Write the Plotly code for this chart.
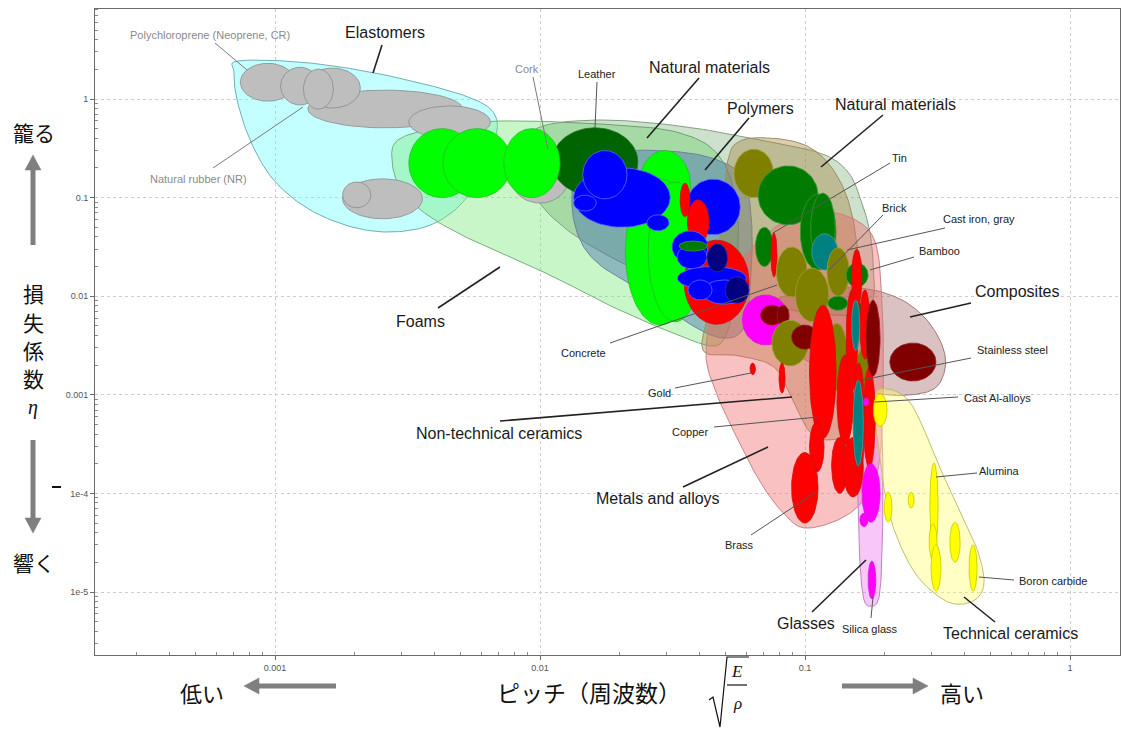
import numpy as np
import plotly.graph_objects as go

# ---------------------------------------------------------------------------
# Material bubbles: (pitch low, pitch high, loss low, loss high)
# pitch = sqrt(E / rho), loss = loss coefficient eta
# ---------------------------------------------------------------------------
elastomer_bubbles = [
    (1.33e-3, 5.1e-3, 0.51, 1.23),     # natural rubber (NR)
    (3.2e-3, 6.5e-3, 0.40, 0.85),
    (7.4e-4, 1.19e-3, 0.95, 2.3),      # polychloroprene
    (1.05e-3, 1.47e-3, 0.87, 2.1),
    (1.29e-3, 2.1e-3, 0.81, 2.06),
    (1.28e-3, 1.66e-3, 0.79, 2.01),
    (1.8e-3, 3.6e-3, 0.061, 0.155),
    (1.8e-3, 2.3e-3, 0.079, 0.144),
]
cork_bubbles = [(7.8e-3, 0.0128, 0.088, 0.28)]
leather_bubbles = [(0.0111, 0.0234, 0.104, 0.51)]
foam_bubbles = [
    (3.2e-3, 5.7e-3, 0.10, 0.50),
    (4.3e-3, 7.8e-3, 0.10, 0.50),
    (7.3e-3, 0.0119, 0.10, 0.50),
    (0.0236, 0.037, 0.059, 0.30),
    (0.021, 0.0385, 0.0051, 0.155),
    (0.0256, 0.041, 0.0055, 0.144),
]
polymer_bubbles = [
    (0.0134, 0.031, 0.050, 0.20),
    (0.0145, 0.0213, 0.097, 0.30),
    (0.0134, 0.0163, 0.073, 0.106),
    (0.0356, 0.057, 0.042, 0.154),
    (0.0253, 0.0307, 0.046, 0.067),
    (0.0315, 0.043, 0.0217, 0.046),
    (0.0329, 0.0427, 0.0189, 0.0331),
    (0.033, 0.060, 0.0116, 0.020),
    (0.041, 0.060, 0.0083, 0.0146),
    (0.0362, 0.0446, 0.00915, 0.0146),
]
navy_bubbles = [
    (0.0427, 0.051, 0.0176, 0.034),
    (0.050, 0.0615, 0.0085, 0.0157),
]
metal_bubbles = [
    (0.0338, 0.0368, 0.064, 0.14),
    (0.036, 0.0434, 0.034, 0.095),
    (0.035, 0.0615, 0.0052, 0.037),
    (0.0744, 0.0784, 0.0157, 0.044),   # tin
    (0.062, 0.065, 0.0016, 0.0021),    # gold
    (0.0798, 0.0841, 1.04e-3, 2.1e-3),
    (0.132, 0.152, 3.1e-4, 2.53e-3),
    (0.104, 0.131, 3.6e-4, 8.1e-3),    # copper
    (0.104, 0.118, 1.65e-4, 5.3e-4),
    (0.089, 0.112, 5.0e-5, 2.6e-4),    # brass
    (0.126, 0.145, 1.0e-4, 3.7e-4),
    (0.139, 0.166, 9.2e-5, 3.7e-4),
    (0.143, 0.158, 1.1e-3, 0.0116),
    (0.166, 0.184, 1.8e-4, 1.9e-3),
    (0.150, 0.164, 7.8e-3, 0.030),
    (0.161, 0.176, 2.3e-3, 0.0116),
    (0.152, 0.168, 1.5e-4, 2.1e-3),
]
natural_bubbles = [
    (0.0665, 0.112, 0.053, 0.21),
    (0.096, 0.131, 0.0184, 0.109),
    (0.105, 0.130, 0.0217, 0.111),
    (0.065, 0.076, 0.020, 0.050),
    (0.143, 0.173, 0.0124, 0.0217),    # bamboo
    (0.122, 0.145, 7.2e-3, 0.010),
    (0.145, 0.167, 5.1e-3, 8.9e-3),
    (0.0335, 0.0427, 0.0287, 0.0363),
]
ferrous_bubbles = [
    (0.106, 0.133, 0.0184, 0.043),     # cast iron, gray
    (0.150, 0.161, 2.8e-3, 9.1e-3),
    (0.152, 0.166, 1.9e-4, 1.4e-3),    # stainless steel
]
nontech_bubbles = [
    (0.054, 0.076, 0.10, 0.31),
    (0.078, 0.102, 0.0098, 0.0315),    # concrete
    (0.092, 0.123, 0.0055, 0.0193),
    (0.121, 0.147, 0.010, 0.031),      # brick
    (0.075, 0.103, 1.96e-3, 5.7e-3),
    (0.120, 0.145, 1.1e-3, 5.3e-3),
    (0.133, 0.156, 4.8e-4, 1.0e-3),
    (0.156, 0.182, 1.2e-3, 3.05e-3),
]
composite_bubbles = [
    (0.068, 0.083, 5.1e-3, 8.1e-3),
    (0.0784, 0.0871, 5.1e-3, 8.1e-3),
    (0.089, 0.112, 2.9e-3, 5.1e-3),
    (0.170, 0.192, 1.55e-3, 9.1e-3),
    (0.209, 0.312, 1.38e-3, 3.35e-3),
]
glass_bubbles = [
    (0.058, 0.087, 3.2e-3, 0.0103),
    (0.166, 0.174, 7.7e-4, 9.3e-4),
    (0.164, 0.192, 5.1e-5, 2.0e-4),
    (0.161, 0.173, 4.6e-5, 6.3e-5),
    (0.173, 0.185, 8.5e-6, 2.06e-5),   # silica glass
]
techcer_bubbles = [
    (0.181, 0.204, 4.8e-4, 1.02e-3),
    (0.199, 0.213, 5.1e-5, 1.03e-4),
    (0.245, 0.258, 7.1e-5, 1.03e-4),
    (0.296, 0.318, 2.7e-5, 2.03e-4),   # alumina
    (0.294, 0.315, 2.1e-5, 4.9e-5),
    (0.299, 0.326, 1.02e-5, 3.0e-5),
    (0.352, 0.385, 2.0e-5, 5.1e-5),
    (0.416, 0.446, 1.02e-5, 3.0e-5),   # boron carbide
]

# ---------------------------------------------------------------------------
# Family envelopes: boundary points (pitch, loss)
# ---------------------------------------------------------------------------
elastomer_env_pitch = [7.25e-4, 1.24e-3, 2.28e-3, 4.19e-3, 5.94e-3, 6.76e-3, 6.88e-3, 6.48e-3, 5.69e-3,
                       4.78e-3, 3.68e-3, 2.60e-3, 1.84e-3, 1.30e-3, 9.74e-4, 8.05e-4, 7.19e-4, 7.0e-4]
elastomer_env_loss = [2.43, 2.37, 1.88, 1.29, 0.933, 0.689, 0.463, 0.270, 0.134,
                      0.0749, 0.0503, 0.0448, 0.0527, 0.0803, 0.158, 0.384, 0.977, 1.88]

foam_env_pitch = [2.91e-3, 4.19e-3, 7.06e-3, 0.01684, 0.0338, 0.0486, 0.0559, 0.0535, 0.0512,
                  0.0457, 0.0338, 0.0192, 0.0109, 5.94e-3, 3.85e-3, 3.01e-3, 2.77e-3]
foam_env_loss = [0.384, 0.520, 0.598, 0.558, 0.452, 0.241, 0.0593, 9.15e-3, 4.54e-3,
                 3.13e-3, 3.95e-3, 7.59e-3, 0.0164, 0.0338, 0.0636, 0.119, 0.224]

natural_env_pitch = [8.78e-3, 0.0100, 0.01684, 0.0338, 0.0676, 0.114, 0.1453, 0.164, 0.176,
                     0.181, 0.182, 0.168, 0.124, 0.0676, 0.0338, 0.0188, 0.0124, 9.57e-3]
natural_env_loss = [0.304, 0.520, 0.612, 0.532, 0.384, 0.283, 0.182, 0.0881, 0.0438,
                    0.0207, 0.01028, 6.92e-3, 6.45e-3, 8.14e-3, 0.0121, 0.0244, 0.0492, 0.106]

polymer_env_pitch = [0.0132, 0.0139, 0.0184, 0.0338, 0.0499, 0.0594, 0.0631, 0.0620, 0.0594,
                     0.0521, 0.0402, 0.0238, 0.01684, 0.01416]
polymer_env_loss = [0.0841, 0.1905, 0.290, 0.290, 0.224, 0.141, 0.0469, 0.01156, 5.1e-3,
                    3.77e-3, 4.54e-3, 0.01156, 0.0207, 0.0372]

nontech_env_pitch = [0.0512, 0.0569, 0.0738, 0.100, 0.124, 0.1453, 0.158, 0.164, 0.158,
                     0.1453, 0.124, 0.1044, 0.0917, 0.0771, 0.0569, 0.0412, 0.0446, 0.0486]
nontech_env_loss = [0.241, 0.375, 0.402, 0.341, 0.214, 0.0946, 0.0294, 5.74e-3, 1.12e-3,
                    4.40e-4, 3.48e-4, 4.20e-4, 7.88e-4, 1.87e-3, 2.48e-3, 2.85e-3, 9.15e-3, 0.0593]

composite_env_pitch = [0.0665, 0.0771, 0.1044, 0.161, 0.2244, 0.284, 0.329, 0.338, 0.310,
                       0.249, 0.192, 0.148, 0.109, 0.0805]
composite_env_loss = [6.01e-3, 9.15e-3, 0.01156, 0.0121, 9.59e-3, 6.01e-3, 3.20e-3, 1.87e-3, 1.17e-3,
                      9.95e-4, 1.02e-3, 1.26e-3, 2.01e-3, 3.20e-3]

metal_env_pitch = [0.0594, 0.0878, 0.1265, 0.179, 0.195, 0.197, 0.1885, 0.164, 0.133,
                   0.100, 0.0841, 0.0688, 0.0559, 0.0466, 0.0423, 0.0457]
metal_env_loss = [0.0262, 0.0621, 0.0714, 0.0418, 9.15e-3, 8.85e-4, 1.73e-4, 8.18e-5, 5.37e-5,
                  4.46e-5, 6.04e-5, 1.22e-4, 3.48e-4, 9.95e-4, 2.53e-3, 8.14e-3]

glass_env_pitch = [0.164, 0.182, 0.1935, 0.197, 0.195, 0.190, 0.179, 0.167, 0.161, 0.158, 0.157]
glass_env_loss = [9.95e-4, 1.07e-3, 5.55e-4, 1.37e-4, 2.11e-5, 8.69e-6, 7.21e-6, 8.30e-6,
                  2.11e-5, 1.37e-4, 5.55e-4]

techcer_env_pitch = [0.1853, 0.213, 0.245, 0.2765, 0.323, 0.391, 0.450, 0.474, 0.438,
                     0.368, 0.310, 0.260, 0.2244, 0.204, 0.192, 0.1837]
techcer_env_loss = [1.07e-3, 1.12e-3, 8.85e-4, 4.94e-4, 1.81e-4, 6.04e-5, 2.55e-5, 1.23e-5, 8.30e-6,
                    7.55e-6, 9.54e-6, 1.56e-5, 3.37e-5, 7.63e-5, 2.18e-4, 5.55e-4]

# axis ticks
x_tick_vals = [0.001, 0.01, 0.1, 1]
x_tick_text = ["0.001", "0.01", "0.1", "1"]
y_tick_vals = [1e-5, 1e-4, 1e-3, 1e-2, 1e-1, 1]
y_tick_text = ["1e-5", "1e-4", "0.001", "0.01", "0.1", "1"]
x_minor_vals = [m * 10.0 ** e for e in range(-4, 1) for m in range(2, 10)]
y_minor_vals = [m * 10.0 ** e for e in range(-6, 1) for m in range(2, 10)]

# ---------------------------------------------------------------------------
# Styles
# ---------------------------------------------------------------------------
bubble_style = {
    "elastomer": ("#bebebe", "#8a8a8a"),
    "cork": ("#bebebe", "#8a8a8a"),
    "leather": ("#006400", "#1f6f1f"),
    "foam": ("#00ff00", "#22c022"),
    "polymer": ("#0000ff", "#5a6cff"),
    "navy": ("#000080", "#3030a0"),
    "metal": ("#ff0000", "#c81010"),
    "natural": ("#007a00", "#3a9a3a"),
    "ferrous": ("#008080", "#40a0a0"),
    "nontech": ("#808000", "#a0a030"),
    "composite": ("#800000", "#902020"),
    "glass": ("#ff00ff", "#d020d0"),
    "techcer": ("#ffff00", "#c8c800"),
}
bubbles = {
    "elastomer": elastomer_bubbles, "cork": cork_bubbles, "leather": leather_bubbles,
    "foam": foam_bubbles, "polymer": polymer_bubbles, "navy": navy_bubbles,
    "metal": metal_bubbles, "natural": natural_bubbles, "ferrous": ferrous_bubbles,
    "nontech": nontech_bubbles, "composite": composite_bubbles, "glass": glass_bubbles,
    "techcer": techcer_bubbles,
}
# stacking order of the bubbles (family, first, last)
draw_sequence = [
    ("elastomer", 0, 7), ("cork", 0, 0), ("leather", 0, 0), ("foam", 0, 5),
    ("polymer", 0, 3), ("metal", 0, 2), ("polymer", 4, 9), ("navy", 0, 1),
    ("natural", 7, 7), ("nontech", 0, 0), ("natural", 0, 3), ("metal", 3, 3),
    ("ferrous", 0, 0), ("glass", 0, 0), ("composite", 0, 1), ("nontech", 1, 7),
    ("composite", 2, 2), ("natural", 4, 6), ("metal", 4, 16), ("ferrous", 1, 2),
    ("composite", 3, 4), ("glass", 1, 4), ("techcer", 0, 7),
]

envelopes = [
    (elastomer_env_pitch, elastomer_env_loss, "rgba(100,255,255,0.38)", "rgb(110,175,180)"),
    (foam_env_pitch, foam_env_loss, "rgba(120,232,120,0.40)", "rgb(120,175,120)"),
    (natural_env_pitch, natural_env_loss, "rgba(60,140,60,0.26)", "rgb(130,160,130)"),
    (polymer_env_pitch, polymer_env_loss, "rgba(70,110,175,0.45)", "rgb(110,130,160)"),
    (nontech_env_pitch, nontech_env_loss, "rgba(165,130,60,0.40)", "rgb(160,140,100)"),
    (composite_env_pitch, composite_env_loss, "rgba(150,80,80,0.35)", "rgb(160,120,120)"),
    (metal_env_pitch, metal_env_loss, "rgba(240,100,100,0.40)", "rgb(200,130,130)"),
    (glass_env_pitch, glass_env_loss, "rgba(240,120,240,0.42)", "rgb(190,130,190)"),
    (techcer_env_pitch, techcer_env_loss, "rgba(255,255,110,0.40)", "rgb(190,190,110)"),
]


def bubble_outline(b, n=72):
    lx = np.log10(b[:2])
    ly = np.log10(b[2:])
    cx, rx = lx.mean(), (lx[1] - lx[0]) / 2
    cy, ry = ly.mean(), (ly[1] - ly[0]) / 2
    t = np.linspace(0, 2 * np.pi, n)
    return 10 ** (cx + rx * np.cos(t)), 10 ** (cy + ry * np.sin(t))


def smooth_closed(px, py, n=14):
    """Closed Catmull-Rom curve through the points, evaluated in log space."""
    P = np.column_stack([np.log10(px), np.log10(py)])
    m = len(P)
    t = np.linspace(0, 1, n, endpoint=False)[:, None]
    segs = []
    for i in range(m):
        p0, p1, p2, p3 = P[(i - 1) % m], P[i], P[(i + 1) % m], P[(i + 2) % m]
        segs.append(0.5 * (2 * p1 + (-p0 + p2) * t + (2 * p0 - 5 * p1 + 4 * p2 - p3) * t ** 2
                           + (-p0 + 3 * p1 - 3 * p2 + p3) * t ** 3))
    out = np.vstack(segs + [segs[0][:1]])
    return 10 ** out[:, 0], 10 ** out[:, 1]


fig = go.Figure()

for ex, ey, fill, edge in envelopes:
    sx, sy = smooth_closed(ex, ey)
    fig.add_trace(go.Scatter(x=sx, y=sy, mode="lines", fill="toself", fillcolor=fill,
                             line=dict(color=edge, width=1), hoverinfo="skip"))

for fam, i0, i1 in draw_sequence:
    fill, edge = bubble_style[fam]
    for b in bubbles[fam][i0:i1 + 1]:
        bx, by = bubble_outline(np.array(b))
        fig.add_trace(go.Scatter(x=bx, y=by, mode="lines", fill="toself", fillcolor=fill,
                                 line=dict(color=edge, width=0.8), hoverinfo="skip"))

# ---------------------------------------------------------------------------
# Layout geometry (pixels) and helpers for labels placed in paper space
# ---------------------------------------------------------------------------
W, H = 1121, 731
ML, MR, MT, MB = 95, 1, 9, 76
PW, PH = W - ML - MR, H - MT - MB


def fx(p):
    return (p - ML) / PW


def fy(p):
    return (H - MB - p) / PH


LAT = "Liberation Sans, Arial, sans-serif"
JP = "Noto Sans CJK JP, sans-serif"
SERIF = "Liberation Serif, DejaVu Serif, serif"

annotations = []
shapes = []


def label(text, x, y, size=11, color="#222222", family=LAT, xanchor="center"):
    annotations.append(dict(text=text, x=fx(x), y=fy(y), xref="paper", yref="paper",
                            showarrow=False, xanchor=xanchor, yanchor="middle",
                            font=dict(size=size, color=color, family=family)))


def leader(x0, y0, x1, y1, color="#333333", width=1.0):
    shapes.append(dict(type="line", xref="paper", yref="paper",
                       x0=fx(x0), y0=fy(y0), x1=fx(x1), y1=fy(y1),
                       line=dict(color=color, width=width)))


# family labels
big = [
    ("Elastomers", 385, 33, (382, 45, 373, 73)),
    ("Natural materials", 709, 67, (699, 78, 647, 138)),
    ("Polymers", 760, 108, (749, 118, 705, 170)),
    ("Natural materials", 895, 104, (883, 115, 821, 167)),
    ("Composites", 1017, 292, (971, 303, 910, 317)),
    ("Foams", 420, 321, (438, 308, 500, 267)),
    ("Non-technical ceramics", 499, 433, (500, 421, 792, 397)),
    ("Metals and alloys", 658, 498, (683, 487, 768, 447)),
    ("Glasses", 806, 623, (812, 612, 866, 560)),
    ("Technical ceramics", 1010, 633, (995, 622, 964, 597)),
]
for text, x, y, ln in big:
    label(text, x, y, size=16, color="#1a1a1a")
    leader(*ln, color="#222222", width=1.6)

# individual material labels
small = [
    ("Polychloroprene (Neoprene, CR)", 210, 35, (215, 43, 247, 70), "#8a8a8a"),
    ("Natural rubber (NR)", 198, 179, (213, 168, 303, 107), "#8a8a8a"),
    ("Cork", 527, 69, (533, 77, 548, 150), "#8a8a8a"),
    ("Leather", 597, 74, (597, 82, 595, 128), "#222222"),
    ("Tin", 899, 158, (890, 163, 773, 233), "#222222"),
    ("Brick", 894, 208, (883, 215, 829, 270), "#222222"),
    ("Cast iron, gray", 979, 219, (945, 228, 847, 250), "#222222"),
    ("Bamboo", 939, 251, (914, 257, 870, 270), "#222222"),
    ("Concrete", 583, 353, (610, 343, 777, 285), "#222222"),
    ("Stainless steel", 1012, 350, (971, 358, 862, 380), "#222222"),
    ("Gold", 659, 393, (675, 388, 751, 373), "#222222"),
    ("Cast Al-alloys", 997, 398, (958, 397, 875, 402), "#222222"),
    ("Copper", 690, 432, (714, 427, 818, 417), "#222222"),
    ("Alumina", 999, 471, (977, 473, 936, 477), "#222222"),
    ("Brass", 739, 545, (751, 535, 816, 492), "#222222"),
    ("Boron carbide", 1053, 581, (1014, 580, 979, 577), "#222222"),
    ("Silica glass", 870, 629, (871, 618, 873, 597), "#222222"),
]
for text, x, y, ln, col in small:
    label(text, x, y, size=11, color=col)
    leader(*ln, color="#7a7a7a" if col != "#222222" else "#555555", width=1.0)

# ---------------------------------------------------------------------------
# Axis captions (Japanese) with arrows
# ---------------------------------------------------------------------------
GREY = "#7f7f7f"


def arrow(x0, y0, x1, y1, head=15, half=8, width=5):
    v = np.array([x1 - x0, y1 - y0], float)
    L = np.hypot(*v)
    u = v / L
    nrm = np.array([-u[1], u[0]])
    base = np.array([x1, y1]) - u * head
    shapes.append(dict(type="line", xref="paper", yref="paper",
                       x0=fx(x0), y0=fy(y0), x1=fx(base[0] + u[0]), y1=fy(base[1] + u[1]),
                       line=dict(color=GREY, width=width)))
    a = base + nrm * half
    b = base - nrm * half
    path = "M {} {} L {} {} L {} {} Z".format(fx(x1), fy(y1), fx(a[0]), fy(a[1]), fx(b[0]), fy(b[1]))
    shapes.append(dict(type="path", xref="paper", yref="paper", path=path,
                       fillcolor=GREY, line=dict(color=GREY, width=0.5)))


label("籠る", 34, 132, size=21, color="#111111", family=JP)
arrow(33, 245, 33, 155)
for ch, yy in zip("損失係数", [293, 322, 350, 378]):
    label(ch, 33, yy, size=21, color="#111111", family=JP)
label("<i>η</i>", 33, 407, size=20, color="#111111", family=SERIF)
arrow(33, 440, 33, 533)
label("響く", 34, 562, size=21, color="#111111", family=JP)
leader(52, 487, 61, 487, color="#111111", width=2)

label("低い", 202, 692, size=22, color="#111111", family=JP)
arrow(336, 686, 244, 686)
label("ピッチ（周波数）", 589, 692, size=23, color="#111111", family=JP)
arrow(842, 686, 928, 686)
label("高い", 962, 692, size=22, color="#111111", family=JP)

# sqrt(E / rho)
label("<i>E</i>", 737, 671, size=17, color="#111111", family=SERIF)
label("<i>ρ</i>", 737, 703, size=17, color="#111111", family=SERIF)
leader(727, 685, 747, 685, color="#111111", width=1.2)
shapes.append(dict(type="path", xref="paper", yref="paper",
                   path="M {} {} L {} {} L {} {} L {} {} L {} {}".format(
                       fx(709), fy(700), fx(713), fy(697), fx(720), fy(727),
                       fx(727), fy(657), fx(749), fy(657)),
                   line=dict(color="#111111", width=1.2)))

axis_common = dict(
    type="log", showgrid=True, gridcolor="#cdcdcd", griddash="dot", gridwidth=1,
    showline=True, linecolor="#6a6a6a", linewidth=1, mirror=True, zeroline=False,
    ticks="outside", ticklen=4, tickcolor="#6a6a6a",
    tickfont=dict(size=9, color="#555555", family=LAT),
)

fig.update_layout(
    width=W, height=H,
    margin=dict(l=ML, r=MR, t=MT, b=MB),
    paper_bgcolor="white", plot_bgcolor="white",
    showlegend=False,
    xaxis=dict(axis_common, range=[np.log10(1e-3) - (275 - 95) / 265, (1120 - 1070) / 265],
               tickmode="array", tickvals=x_tick_vals, ticktext=x_tick_text,
               minor=dict(tickmode="array", tickvals=x_minor_vals, ticks="inside",
                          ticklen=3, tickcolor="#8a8a8a", showgrid=False)),
    yaxis=dict(axis_common, range=[(99 - 655) / 98.6, (99 - 9) / 98.6],
               tickmode="array", tickvals=y_tick_vals, ticktext=y_tick_text,
               minor=dict(tickmode="array", tickvals=y_minor_vals, ticks="inside",
                          ticklen=3, tickcolor="#8a8a8a", showgrid=False)),
    annotations=annotations,
    shapes=shapes,
)

fig.write_html("out.html")
